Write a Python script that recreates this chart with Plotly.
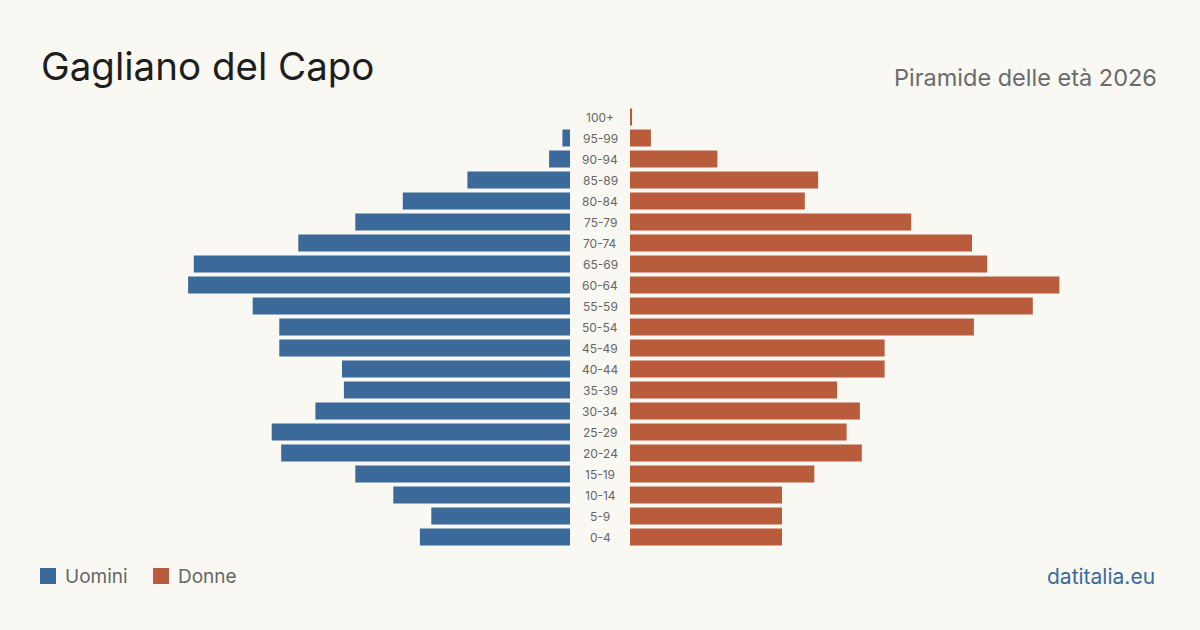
import plotly.graph_objects as go

age_groups = ["0-4", "5-9", "10-14", "15-19", "20-24", "25-29", "30-34", "35-39",
              "40-44", "45-49", "50-54", "55-59", "60-64", "65-69", "70-74", "75-79",
              "80-84", "85-89", "90-94", "95-99", "100+"]
men = [79, 73, 93, 113, 152, 157, 134, 119, 120, 153, 153, 167, 201, 198, 143, 113,
       88, 54, 11, 4, 0]
women = [80, 80, 80, 97, 122, 114, 121, 109, 134, 134, 181, 212, 226, 188, 180, 148,
         92, 99, 46, 11, 1]
series_names = ["Uomini", "Donne"]

title = "Gagliano del Capo"
subtitle = "Piramide delle età 2026"
source = "datitalia.eu"

BLUE = "#3b6a9a"
ORANGE = "#b95c3c"
BG = "#f9f8f3"
FONT = "Inter, Noto Sans, sans-serif"

W, H = 1200, 630
XMAX = 250

fig = go.Figure()
fig.add_trace(go.Bar(y=age_groups, x=men, orientation="h", name=series_names[0],
                     marker=dict(color=BLUE, line=dict(width=0)),
                     xaxis="x", yaxis="y", hoverinfo="x+y"))
fig.add_trace(go.Bar(y=age_groups, x=women, orientation="h", name=series_names[1],
                     marker=dict(color=ORANGE, line=dict(width=0)),
                     xaxis="x2", yaxis="y2", hoverinfo="x+y"))

y_bottom = 1 - 547.5 / H
y_top = 1 - 106.5 / H

left_end = 570 / W
right_start = 630 / W
span = 475 / W

fig.update_layout(
    width=W, height=H,
    paper_bgcolor=BG, plot_bgcolor=BG,
    margin=dict(l=0, r=0, t=0, b=0),
    bargap=0.19,
    font=dict(family=FONT, color="#666666"),
    xaxis=dict(domain=[left_end - span, left_end], range=[XMAX, 0], visible=False,
               fixedrange=True),
    xaxis2=dict(domain=[right_start, right_start + span], range=[0, XMAX], visible=False,
                fixedrange=True),
    yaxis=dict(domain=[y_bottom, y_top], anchor="x", visible=False,
               categoryorder="array", categoryarray=age_groups, range=[-0.5, 20.5]),
    yaxis2=dict(domain=[y_bottom, y_top], anchor="x2", visible=False, matches="y",
                categoryorder="array", categoryarray=age_groups),
    showlegend=False,
)

for ag in age_groups:
    fig.add_annotation(x=0.5, xref="paper", y=ag, yref="y", text=ag, showarrow=False,
                       font=dict(size=12, color="#666666", family=FONT),
                       xanchor="center", yanchor="middle")

# custom legend
legend_items = [(series_names[0], BLUE, 40), (series_names[1], ORANGE, 153)]
for name, color, x0 in legend_items:
    fig.add_shape(type="rect", xref="paper", yref="paper",
                  x0=x0 / W, x1=(x0 + 16) / W, y0=1 - 584 / H, y1=1 - 568 / H,
                  fillcolor=color, line=dict(width=0))
    fig.add_annotation(x=(x0 + 23) / W, y=1 - 576 / H, xref="paper", yref="paper",
                       text=name, showarrow=False, xanchor="left", yanchor="middle",
                       font=dict(size=19, color="#666666", family=FONT))

fig.add_annotation(x=39 / W, y=1 - 66 / H, xref="paper", yref="paper", text=title,
                   showarrow=False, xanchor="left", yanchor="middle",
                   font=dict(size=38.5, color="#1e1e1e", family=FONT))
fig.add_annotation(x=1159 / W, y=1 - 77 / H, xref="paper", yref="paper", text=subtitle,
                   showarrow=False, xanchor="right", yanchor="middle",
                   font=dict(size=23.5, color="#6b6b6b", family=FONT))
fig.add_annotation(x=1157 / W, y=1 - 576 / H, xref="paper", yref="paper", text=source,
                   showarrow=False, xanchor="right", yanchor="middle",
                   font=dict(size=21, color=BLUE, family=FONT))

fig.write_html("out.html")
